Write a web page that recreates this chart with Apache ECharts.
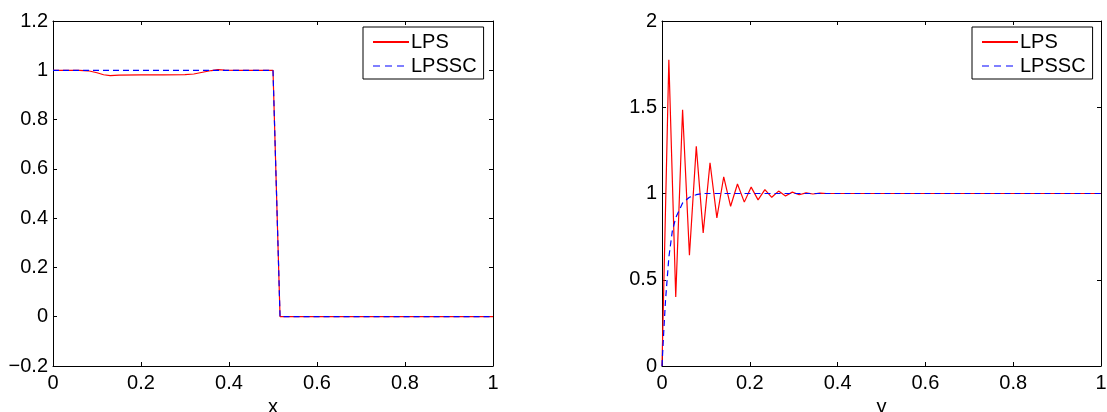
<!DOCTYPE html>
<html>
<head>
<meta charset="utf-8">
<script src="https://cdn.jsdelivr.net/npm/echarts@6/dist/echarts.min.js"></script>
<style>
html,body{margin:0;padding:0;background:#fff;}
#chart{width:1107px;height:412px;}
</style>
</head>
<body>
<div id="chart"></div>
<script>
// ---- data ----
var leftLpsX   = [0, 0.06, 0.08, 0.1, 0.115, 0.13, 0.15, 0.2, 0.25, 0.3, 0.32, 0.34, 0.36, 0.375, 0.39, 0.42, 0.5, 0.516, 1];
var leftLpsY   = [1, 1, 0.998, 0.99, 0.982, 0.978, 0.98, 0.981, 0.981, 0.982, 0.985, 0.992, 0.999, 1.003, 1.001, 1, 1, 0, 0];
var leftSscX   = [0, 0.5, 0.516, 1];
var leftSscY   = [1, 1, 0, 0];

var rightLpsX  = [0, 0.0156, 0.0313, 0.0469, 0.0625, 0.0781, 0.0938, 0.1094, 0.125, 0.1406, 0.1563, 0.1719, 0.1875, 0.2031, 0.2188, 0.2344, 0.25, 0.2656, 0.2813, 0.2969, 0.3125, 0.3281, 0.3438, 0.3594, 0.375, 1];
var rightLpsY  = [0, 1.775, 0.40, 1.485, 0.642, 1.273, 0.772, 1.178, 0.859, 1.097, 0.926, 1.055, 0.950, 1.037, 0.963, 1.022, 0.978, 1.014, 0.986, 1.008, 0.993, 1.004, 0.997, 1.002, 1.0, 1.0];
var rightSscX  = [0, 0.004, 0.008, 0.0156, 0.0234, 0.0313, 0.0469, 0.0625, 0.0781, 0.0938, 1];
var rightSscY  = [0, 0.2, 0.38, 0.63, 0.78, 0.86, 0.945, 0.978, 0.993, 1.0, 1.0];

var xTicks = [0, 0.2, 0.4, 0.6, 0.8, 1];
var leftYTicks = [-0.2, 0, 0.2, 0.4, 0.6, 0.8, 1, 1.2];
var rightYTicks = [0, 0.5, 1, 1.5, 2];
var seriesNames = ['LPS', 'LPSSC'];
var axisNames = ['x', 'y'];

function pairs(xs, ys){ return xs.map(function(x,i){ return [x, ys[i]]; }); }
function fmt(v){
  var s = String(+(+v).toFixed(4));
  return s.charAt(0) === '-' ? '\u2212' + s.slice(1) : s;
}

var FONT = 'Liberation Sans, Arial, Helvetica, sans-serif';
var FS = 20;
var grids = [
  {left: 53, top: 21, width: 440, height: 345, containLabel: false, outerBoundsMode: 'none'},
  {left: 662, top: 21, width: 439, height: 345, containLabel: false, outerBoundsMode: 'none'}
];
var yRanges = [
  {min: leftYTicks[0], max: leftYTicks[leftYTicks.length-1], interval: 0.2},
  {min: rightYTicks[0], max: rightYTicks[rightYTicks.length-1], interval: 0.5}
];

var xAxes = [], yAxes = [];
grids.forEach(function(g, gi){
  var base = {
    type: 'value', gridIndex: gi, min: xTicks[0], max: xTicks[xTicks.length-1], interval: 0.2,
    axisLine: {show: true, onZero: false, lineStyle: {color: '#000', width: 1}},
    axisTick: {show: true, inside: true, length: 4, lineStyle: {color: '#000', width: 1}},
    splitLine: {show: false}
  };
  xAxes.push(Object.assign({}, base, {
    position: 'bottom',
    name: axisNames[gi], nameLocation: 'middle', nameGap: 30,
    nameTextStyle: {fontFamily: FONT, fontSize: FS, color: '#000'},
    axisLabel: {show: true, margin: 7, fontFamily: FONT, fontSize: FS, color: '#000', formatter: fmt}
  }));
  xAxes.push(Object.assign({}, base, {position: 'top', axisLabel: {show: false}}));
  var yb = {
    type: 'value', gridIndex: gi, min: yRanges[gi].min, max: yRanges[gi].max, interval: yRanges[gi].interval,
    axisLine: {show: true, onZero: false, lineStyle: {color: '#000', width: 1}},
    axisTick: {show: true, inside: true, length: 4, lineStyle: {color: '#000', width: 1}},
    splitLine: {show: false}
  };
  yAxes.push(Object.assign({}, yb, {
    position: 'left',
    axisLabel: {show: true, margin: 5, fontFamily: FONT, fontSize: FS, color: '#000', formatter: fmt}
  }));
  yAxes.push(Object.assign({}, yb, {position: 'right', axisLabel: {show: false}}));
});

var data = [
  [pairs(leftLpsX, leftLpsY), pairs(leftSscX, leftSscY)],
  [pairs(rightLpsX, rightLpsY), pairs(rightSscX, rightSscY)]
];
var series = [];
[0,1].forEach(function(gi){
  series.push({
    name: seriesNames[0], type: 'line', xAxisIndex: gi*2, yAxisIndex: gi*2,
    data: data[gi][0], symbol: 'none', showSymbol: false, animation: false,
    lineStyle: {color: '#ff0000', width: 1.2, type: 'solid'}, itemStyle: {color: '#ff0000'}
  });
  series.push({
    name: seriesNames[1], type: 'line', xAxisIndex: gi*2, yAxisIndex: gi*2,
    data: data[gi][1], symbol: 'none', showSymbol: false, animation: false,
    lineStyle: {color: '#0000ff', width: 1.2, type: [6, 4]}, itemStyle: {color: '#0000ff'}
  });
});

var legendLefts = [363, 972];
var legends = legendLefts.map(function(l){
  return {
    left: l, top: 27, orient: 'vertical',
    data: [
      {name: seriesNames[0]},
      {name: seriesNames[1], lineStyle: {type: [7, 5], width: 1.2, color: '#0000ff'}}
    ],
    itemWidth: 36, itemHeight: 14, itemGap: 4,
    padding: [5, 7, 3, 9],
    itemStyle: {opacity: 0},
    backgroundColor: '#fff', borderColor: '#000', borderWidth: 1, borderRadius: 0,
    textStyle: {fontFamily: FONT, fontSize: FS, color: '#000', lineHeight: 20, padding: [0,0,0,-3]},
    selectedMode: false
  };
});

var chart = echarts.init(document.getElementById('chart'), null, {renderer: 'canvas'});
chart.setOption({
  animation: false,
  backgroundColor: '#fff',
  grid: grids,
  xAxis: xAxes,
  yAxis: yAxes,
  legend: legends,
  series: series
});
</script>
</body>
</html>
